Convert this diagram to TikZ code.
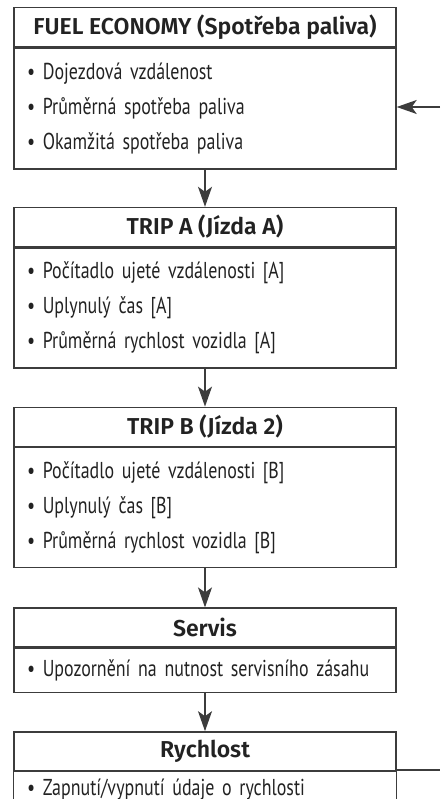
\documentclass[tikz,border=0pt]{standalone}
\usepackage{fontspec}
\setmainfont{PT Sans}[FakeStretch=0.78, WordSpace=0.7]
\newfontfamily\headfont{Fira Sans SemiBold}
\usetikzlibrary{arrows.meta, positioning}
\definecolor{linec}{HTML}{3C3C3C}
\definecolor{textc}{HTML}{222222}

\begin{document}
\begin{tikzpicture}[x=1pt, y=-1pt,
  every node/.style={text=textc, inner sep=0pt},
  boxline/.style={draw=linec, line width=1.4pt},
  head/.style={boxline, minimum width=382pt, minimum height=39pt, font=\headfont\fontsize{23}{27}\selectfont},
  body/.style={boxline, minimum width=382pt, text width=356pt, align=left, font=\fontsize{23}{25}\selectfont},
  flow/.style={boxline, -{Stealth[length=20pt, width=14pt, inset=5pt]}}]
  \useasboundingbox (0,0) rectangle (440,799);
  \clip (0,0) rectangle (440,799);
  \node[head, anchor=north] (fuelH) at (205,7) {FUEL ECONOMY (Spotřeba paliva)};
  \node[body, minimum height=121pt, below=0pt of fuelH] (fuelB) {• Dojezdová vzdálenost\\[10pt]• Průměrná spotřeba paliva\\[10pt]• Okamžitá spotřeba paliva};
  \node[head, below=37pt of fuelB] (tripaH) {TRIP A (Jízda A)};
  \node[body, minimum height=120pt, below=0pt of tripaH] (tripaB) {• Počítadlo ujeté vzdálenosti [A]\\[10pt]• Uplynulý čas [A]\\[10pt]• Průměrná rychlost vozidla [A]};
  \node[head, below=38pt of tripaB] (tripbH) {TRIP B (Jízda 2)};
  \node[body, minimum height=120pt, below=0pt of tripbH] (tripbB) {• Počítadlo ujeté vzdálenosti [B]\\[10pt]• Uplynulý čas [B]\\[10pt]• Průměrná rychlost vozidla [B]};
  \node[head, below=39pt of tripbB] (servH) {Servis};
  \node[body, minimum height=44pt, below=0pt of servH] (servB) {• Upozornění na nutnost servisního zásahu};
  \node[head, below=38pt of servB] (rychH) {Rychlost};
  % posledni box je dole oriznuty
  \node[body, draw=none, minimum height=35pt, below=0pt of rychH] (rychB) {• Zapnutí/vypnutí údaje o rychlosti};
  \draw[boxline] (rychH.south west) -- ++(0,60);
  \draw[boxline] (rychH.south east) -- ++(0,60);
  \draw[flow] (fuelB) -- (tripaH);
  \draw[flow] (tripaB) -- (tripbH);
  \draw[flow] (tripbB) -- (servH);
  \draw[flow] (servB) -- (rychH);
  % zpetna vazba vpravo
  \coordinate (backin) at (440,107);
  \coordinate (backout) at (440,770);
  \draw[boxline] (rychH.east |- backout) -- (backout);
  \draw[flow] (backin) -- (backin -| fuelB.east);
\end{tikzpicture}
\end{document}
